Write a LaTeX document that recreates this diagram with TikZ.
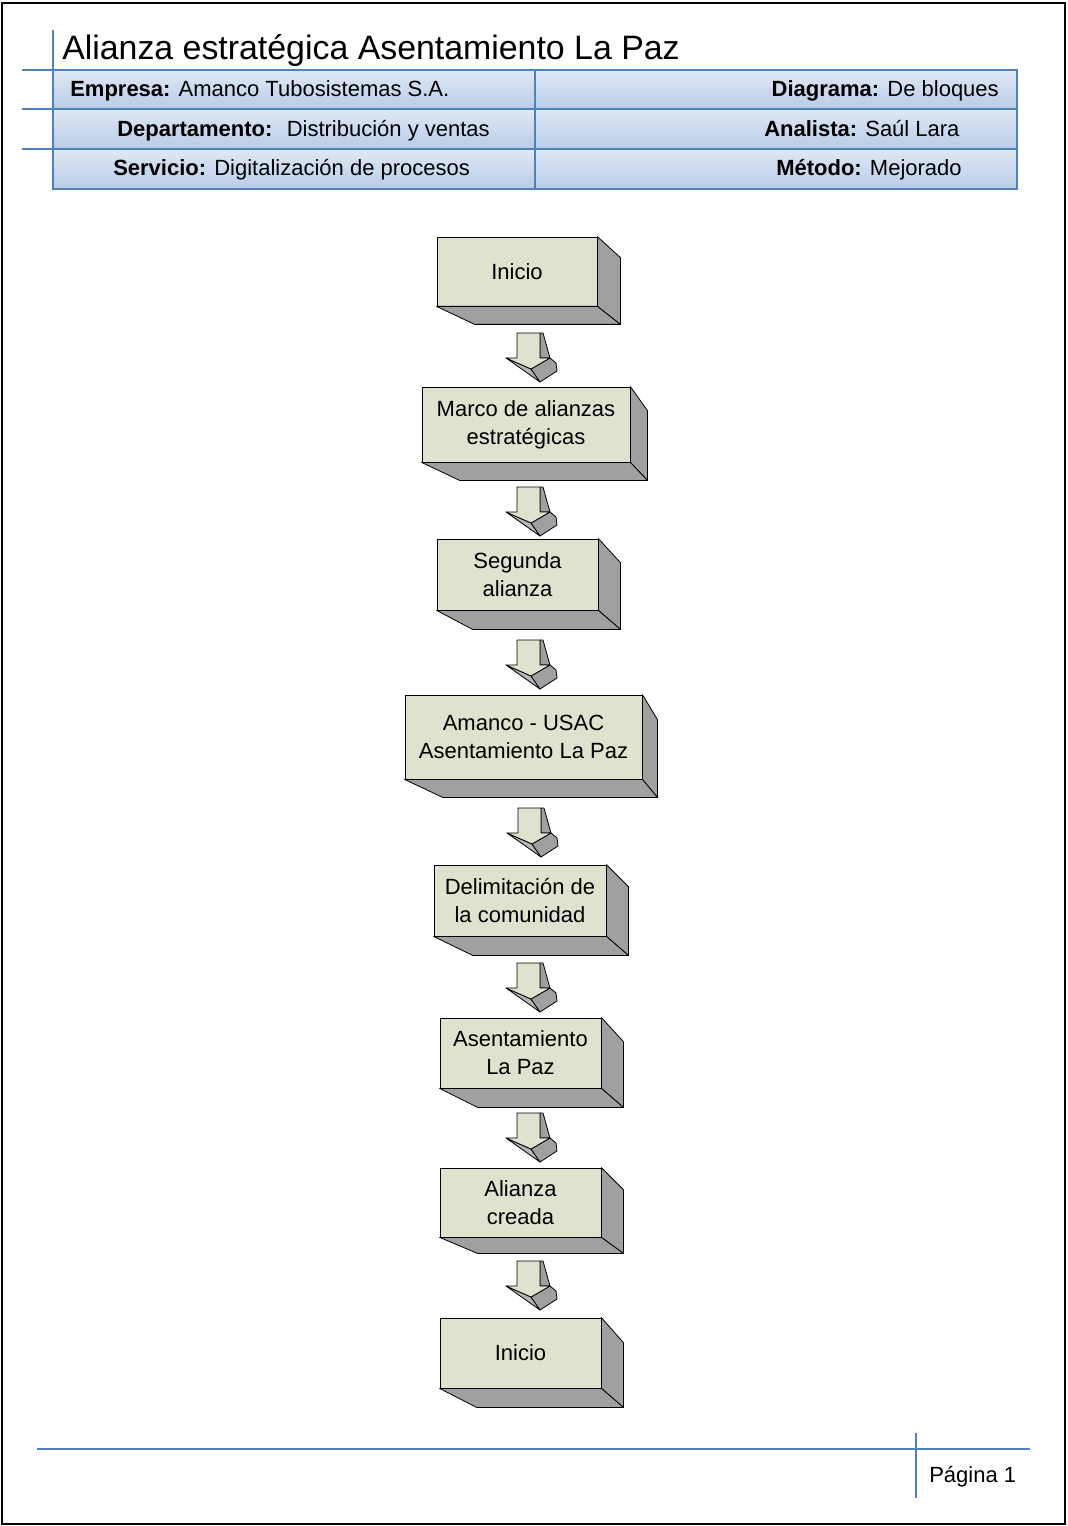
\documentclass[tikz,border=0pt]{standalone}
\usepackage{fontspec}
\setmainfont{Liberation Sans}
\usetikzlibrary{calc}
\definecolor{face}{RGB}{222,226,206}
\definecolor{side}{RGB}{160,160,160}
\definecolor{under}{RGB}{182,182,182}
\definecolor{hdrline}{RGB}{79,129,189}
\definecolor{hdrtop}{RGB}{224,232,246}
\definecolor{hdrbot}{RGB}{184,204,230}
\newcommand\boxsides[5]{%
  \draw[sideface] (#1.north east) -- ++(#2,#3) -- ($(#1.south east)+(#2,#4)$) -- (#1.south east) -- cycle;
  \draw[sideface] (#1.south west) -- (#1.south east) -- ($(#1.south east)+(#2,#4)$) -- ($(#1.south west)+(#5,#4)$) -- cycle;
}
\begin{document}
\begin{tikzpicture}[x=0.75pt,y=-0.75pt,
  txt/.style={font=\fontsize{16.5}{21}\selectfont, inner sep=0pt},
  blk/.style 2 args={draw=black, line width=0.6pt, fill=face, minimum width=#1*0.75pt, minimum height=#2*0.75pt, inner sep=0pt, align=center, font=\fontsize{16.5}{21}\selectfont},
  sideface/.style={draw=black, line width=0.6pt, fill=side, line join=round},
  hline/.style={draw=hdrline, line width=1pt},
  hrow/.style={top color=hdrtop, bottom color=hdrbot, draw=hdrline, line width=1pt},
  barrow/.pic={
    \draw[sideface] (23,0) -- (26,0) -- (31,18) -- (33,25) -- (23,25) -- cycle;
    \draw[sideface, fill=under] (-11,25) -- (14,36) -- (23,49) -- cycle;
    \draw[sideface] (14,36) -- (33,25) -- (39,30) -- (40,38) -- (23,49) -- cycle;
    \draw[sideface, fill=face] (0,0) -- (23,0) -- (23,25) -- (33,25) -- (14,36) -- (-11,25) -- (0,25) -- cycle;
  }
]
\useasboundingbox (0,0) rectangle (1067,1526);
\fill[white] (0,0) rectangle (1067,1526);
\draw[line width=1.2pt] (2,3) rectangle (1065,1524);

% header
\node[anchor=base west, inner sep=0pt, font=\fontsize{25.4}{30}\selectfont] (title) at (62,60) {Alianza estratégica Asentamiento La Paz};
\draw[hrow] (53,70) rectangle (535,109);
\draw[hrow] (535,70) rectangle (1017,109);
\draw[hrow] (53,109) rectangle (535,149);
\draw[hrow] (535,109) rectangle (1017,149);
\draw[hrow] (53,149) rectangle (535,189);
\draw[hrow] (535,149) rectangle (1017,189);
\draw[hline] (53,30) -- (53,70);
\draw[hline] (22,70) -- (53,70);
\draw[hline] (22,109) -- (53,109);
\draw[hline] (22,149) -- (53,149);

\node[txt, anchor=base west] (emp) at (70,97) {\textbf{Empresa:} Amanco Tubosistemas S.A.};
\node[txt, anchor=base west] (dep) at (117,137) {\textbf{Departamento:}~ Distribución y ventas};
\node[txt, anchor=base west] (ser) at (113,176) {\textbf{Servicio:} Digitalización de procesos};
\node[txt, anchor=base east] (dia) at (999,97) {\textbf{Diagrama:} De bloques};
\node[txt, anchor=base west] (ana) at (764,137) {\textbf{Analista:} Saúl Lara};
\node[txt, anchor=base west] (met) at (776,176) {\textbf{Método:} Mejorado};

% blocks
\node[blk={160}{69}] (b1) at (517,271.5) {Inicio};
\boxsides{b1}{23}{21}{18}{38}
\node[blk={208}{75}] (b2) at (526,424.5) {Marco de alianzas\\estratégicas};
\boxsides{b2}{17}{24}{18}{38}
\node[blk={161}{71}] (b3) at (517.5,574.5) {Segunda\\alianza};
\boxsides{b3}{22}{24}{19}{36}
\node[blk={237}{84}] (b4) at (523.5,737) {Amanco - USAC\\Asentamiento La Paz};
\boxsides{b4}{15}{25}{18}{38}
\node[blk={172}{71}] (b5) at (520,900.5) {Delimitación de\\la comunidad};
\boxsides{b5}{22}{22}{19}{39}
\node[blk={161}{70}] (b6) at (520.5,1053) {Asentamiento\\La Paz};
\boxsides{b6}{22}{24}{19}{38}
\node[blk={161}{69}] (b7) at (520.5,1202.5) {Alianza\\creada};
\boxsides{b7}{22}{22}{16}{38}
\node[blk={161}{70}] (b8) at (520.5,1353) {Inicio};
\boxsides{b8}{22}{25}{19}{37}

% block arrows
\pic (a1) at (517,333) {barrow};
\pic (a2) at (517,487) {barrow};
\pic (a3) at (517,640) {barrow};
\pic (a4) at (518,808) {barrow};
\pic (a5) at (517,963) {barrow};
\pic (a6) at (517,1113) {barrow};
\pic (a7) at (517,1261) {barrow};

% footer
\draw[hline] (37,1449) -- (1030,1449);
\draw[hline] (916,1433) -- (916,1498);
\node[txt, anchor=base west] (pag) at (929,1482) {Página 1};
\end{tikzpicture}
\end{document}
